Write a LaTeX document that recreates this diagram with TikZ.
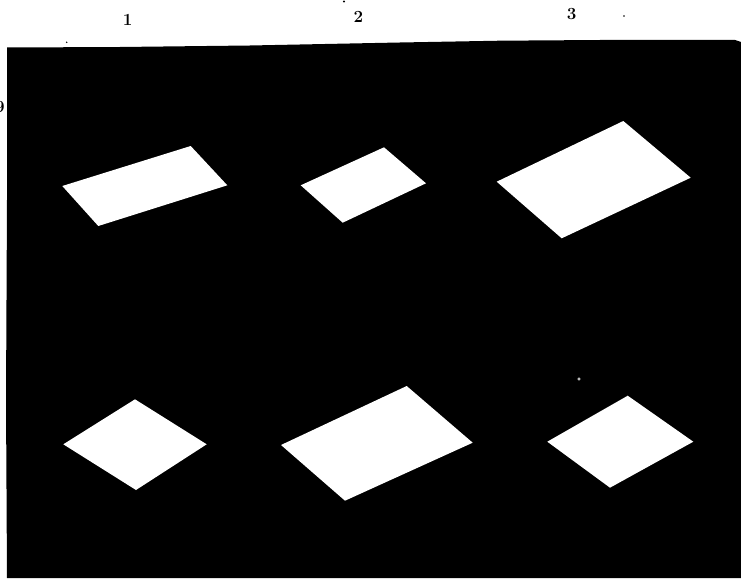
\documentclass[tikz,border=0pt]{standalone}
\begin{document}
\begin{tikzpicture}[x=1pt,y=-1pt,
  card/.style={fill=white,draw=none},
  numlabel/.style={inner sep=0pt,font=\fontsize{17}{17}\selectfont\bfseries},
  speck/.style={fill=white}]
\useasboundingbox (0,0) rectangle (741,578);
% black field
\fill[black] (7,47.5) -- (120,47) -- (250,45.5) -- (400,42.5) -- (500,40.7) -- (600,40) -- (735,40) -- (741,42)
  -- (741,578) -- (7,578) -- (6,400) -- (7,200) -- cycle;
% column numbers
\node[numlabel] (n1) at (127.7,19.5) {1};
\node[numlabel] (n2) at (358.3,17) {2};
\node[numlabel] (n3) at (571.7,14) {3};
\node[numlabel] (n9) at (0,107) {9};
% stray marks
\fill (344,1.5) circle (1.2);
\fill (624,16) circle (0.8);
\fill (66.7,42.3) circle (0.8);
\draw[white,line width=0.5pt] (579,379) circle (1.3);
% top row
\fill[card] (62.3,186) -- (190.7,146) -- (227.3,185.3) -- (98.3,226) -- cycle;
\fill[card] (300.7,185.3) -- (384,147.3) -- (426,183.3) -- (342.7,222.7) -- cycle;
\fill[card] (496.7,181.7) -- (623.3,121) -- (690.7,177.7) -- (561.7,238.3) -- cycle;
% bottom row
\fill[card] (63.3,444.3) -- (135,399.3) -- (206.7,444.3) -- (136,490) -- cycle;
\fill[card] (281,445) -- (406.7,386) -- (472.7,442.7) -- (345,500.7) -- cycle;
\fill[card] (547.3,441.7) -- (627.7,395.7) -- (693.3,441.7) -- (610,487.7) -- cycle;
\end{tikzpicture}
\end{document}
